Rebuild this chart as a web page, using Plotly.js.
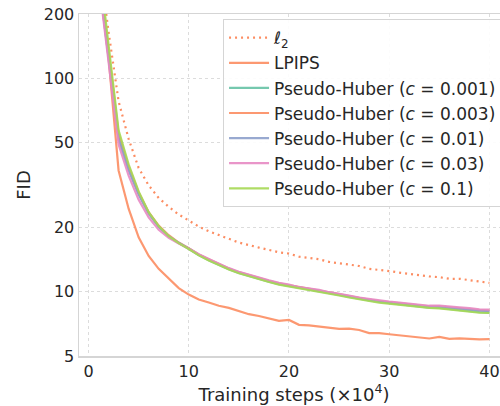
<!DOCTYPE html>
<html>
<head>
<meta charset="utf-8">
<script src="https://cdn.plot.ly/plotly-3.0.1.min.js"></script>
<style>
html,body{margin:0;padding:0;overflow:hidden;background:#fff;}
#chart{width:510px;height:406px;}
</style>
</head>
<body>
<div id="chart"></div>
<script>
const steps = [1,2,3,4,5,6,7,8,9,10,11,12,13,14,15,16,17,18,19,20,21,22,23,24,25,26,27,28,29,30,31,32,33,34,35,36,37,38,39,40];
const l2    = [380,165,78,52,38,31.5,27.5,25,23,21.5,20.2,19.2,18.5,17.7,17.0,16.5,16.1,15.7,15.3,15.1,14.6,14.4,14.2,13.8,13.6,13.4,13.2,12.8,12.7,12.5,12.3,12.1,12.0,11.8,11.7,11.5,11.5,11.35,11.2,11.0];
const lpips = [300,125,37,24.5,18,14.7,12.8,11.5,10.4,9.7,9.2,8.9,8.6,8.4,8.1,7.85,7.7,7.5,7.3,7.38,7.0,6.95,6.87,6.78,6.7,6.72,6.62,6.4,6.4,6.32,6.25,6.2,6.1,6.04,6.14,6.01,6.05,6.0,5.98,6.0];
const ph0001 = [310,128,53,37.5,28.8,23.4,20.2,18.2,16.9,15.9,14.85,14.05,13.35,12.75,12.25,11.85,11.45,11.15,10.85,10.65,10.4,10.25,10.1,9.85,9.65,9.45,9.25,9.1,8.95,8.85,8.75,8.65,8.5,8.42,8.4,8.3,8.22,8.12,8.02,7.98];
const ph0003 = [325,132,55,38.5,29.2,23.6,20.4,18.4,17.0,16.0,14.95,14.2,13.45,12.85,12.35,11.95,11.55,11.25,10.95,10.75,10.5,10.35,10.2,9.95,9.75,9.55,9.35,9.2,9.05,8.95,8.85,8.75,8.6,8.55,8.55,8.45,8.38,8.3,8.2,8.15];
const ph001  = [300,125,52,37,28.5,23.2,20.1,18.2,16.95,15.95,14.9,14.1,13.4,12.8,12.3,11.9,11.5,11.2,10.9,10.7,10.45,10.3,10.15,9.9,9.7,9.5,9.3,9.15,9.0,8.9,8.8,8.7,8.55,8.5,8.5,8.38,8.32,8.25,8.15,8.1];
const ph003  = [290,118,49,35,27,22.3,19.5,17.9,16.8,15.95,15.0,14.25,13.5,12.9,12.4,12.0,11.6,11.3,11.0,10.8,10.5,10.35,10.2,9.95,9.8,9.6,9.4,9.25,9.1,9.0,8.9,8.8,8.65,8.6,8.6,8.5,8.45,8.38,8.27,8.24];
const ph01   = [360,145,57,39.5,29.5,23.6,20.3,18.2,16.9,15.85,14.8,14.0,13.3,12.7,12.2,11.8,11.4,11.1,10.8,10.6,10.35,10.2,10.05,9.8,9.6,9.4,9.2,9.05,8.9,8.8,8.7,8.6,8.45,8.4,8.35,8.25,8.15,8.05,7.97,7.95];
const yTicks = [5,10,20,50,100,200];
const xTicks = [0,10,20,30,40];

const names = ['<i>ℓ</i><sub>2</sub>','LPIPS','Pseudo-Huber (<i>c</i> = 0.001)','Pseudo-Huber (<i>c</i> = 0.003)','Pseudo-Huber (<i>c</i> = 0.01)','Pseudo-Huber (<i>c</i> = 0.03)','Pseudo-Huber (<i>c</i> = 0.1)'];
const series = [l2, lpips, ph0001, ph0003, ph001, ph003, ph01];
const colors = ['#fc8d62','#fc8d62','#66c2a5','#fc8d62','#8da0cb','#e78ac3','#a6d854'];
const dashes = ['2px,4px','solid','solid','solid','solid','solid','solid'];

const traces = series.map((ys,i)=>({
  x: steps, y: ys, type:'scatter', mode:'lines', name: names[i],
  legendgroup: 'g'+i,
  line:{color:colors[i], width:2.2, dash:dashes[i]},
  opacity: i===0 ? 1 : 0.9
}));

const font = {family:'DejaVu Sans, sans-serif', color:'#262626'};
const layout = {
  width:510, height:406,
  margin:{l:79, r:1, t:14, b:50},
  paper_bgcolor:'#fff', plot_bgcolor:'#fff',
  font:Object.assign({size:16}, font),
  showlegend:true,
  legend:{x:0.335, y:0.985, xanchor:'left', yanchor:'top',
    bgcolor:'rgba(255,255,255,0.9)', bordercolor:'#d5d5d5', borderwidth:1,
    font:Object.assign({size:17}, font), tracegroupgap:0, itemwidth:40},
  xaxis:{range:[-0.95,41.95], tickvals:xTicks, ticktext:xTicks.map(String),
    showgrid:true, gridcolor:'#dcdcdc', griddash:'dot', gridwidth:1,
    showline:true, mirror:true, linecolor:'#d5d5d5', linewidth:1.5,
    zeroline:false, ticks:'', tickfont:Object.assign({size:16},font),
    title:{text:'Training steps (×10<sup>4</sup>)', font:Object.assign({size:18},font), standoff:8}},
  yaxis:{type:'log', range:[Math.log10(5), Math.log10(200)], tickvals:yTicks, ticktext:yTicks.map(String),
    showgrid:true, gridcolor:'#dcdcdc', griddash:'dot', gridwidth:1,
    showline:true, mirror:true, linecolor:'#d5d5d5', linewidth:1.5,
    zeroline:false, ticks:'', tickfont:Object.assign({size:16},font),
    title:{text:'FID', font:Object.assign({size:18},font), standoff:8}}
};
Plotly.newPlot('chart', traces, layout, {displayModeBar:false, staticPlot:true});
</script>
</body>
</html>
